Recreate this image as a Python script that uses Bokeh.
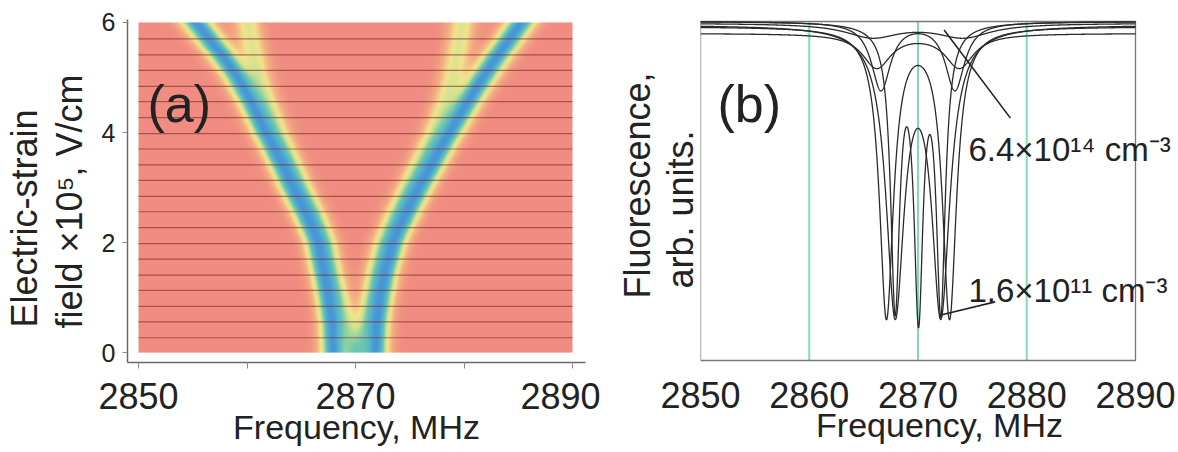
import numpy as np
from bokeh.plotting import figure
from bokeh.layouts import row
from bokeh.models import Range1d, FixedTicker, Label, Title
from bokeh.embed import file_html
from bokeh.resources import INLINE

FONT = "Liberation Sans"
INK = "#222222"

# ---------------- panel (a): resonance positions vs electric-strain field ----------------
field = [0.0, 0.5, 1.0, 1.5, 2.0, 2.5, 3.0, 3.5, 4.0, 4.5, 5.0, 5.5, 6.0]          # x10^5 V/cm
main_low = [2867.9, 2867.8, 2867.5, 2867.0, 2866.5, 2865.5, 2864.2, 2863.0, 2861.7, 2860.5, 2859.1, 2857.3, 2855.3]
main_high = [2871.8, 2871.9, 2872.2, 2872.7, 2873.4, 2874.5, 2875.8, 2877.2, 2878.6, 2880.1, 2881.7, 2883.4, 2885.2]
side_low = [2869.8, 2869.0, 2868.3, 2867.6, 2867.0, 2866.0, 2864.8, 2863.7, 2862.7, 2861.8, 2861.0, 2860.5, 2860.0]
side_high = [2870.2, 2871.0, 2871.6, 2872.1, 2872.8, 2873.8, 2875.0, 2876.2, 2877.3, 2878.2, 2878.9, 2879.4, 2879.8]
branch_strength = [1.0, 1.0, 0.5, 0.5]
scan_fields = [0.27, 0.56, 0.84, 1.13, 1.41, 1.70, 1.98, 2.27, 2.56, 2.84,
               3.13, 3.41, 3.70, 3.98, 4.27, 4.56, 4.84, 5.13, 5.41, 5.70]
freq_ticks_a = [2850, 2870, 2890]
freq_minor_a = [2860, 2880]
field_ticks = [0, 2, 4, 6]

# ---------------- panel (b): fluorescence spectra for several concentrations -------------
spec_centers = [
    [2867.9, 2870.05, 2872.1],
    [2867.9, 2872.1],
    [2867.1, 2872.9],
    [2866.6, 2873.4],
    [2866.2, 2873.8],
    [2865.8, 2874.2],
]
spec_widths = [0.5, 1.0, 0.78, 1.07, 1.6, 3.0]          # HWHM, MHz
spec_depths = [0.816, 0.825, 0.85, 0.2, 0.1, 0.04]
spec_baselines = [1.0, 0.99, 0.985, 1.0, 0.965, 0.995]
freq_ticks_b = [2850, 2860, 2870, 2880, 2890]
marker_freqs = [2860, 2870, 2880]
box_freq = [2850, 2890]
box_level = [0, 1]

# leader lines from the concentration labels to their curves
leader_high_x, leader_high_y = [2872.4, 2878.5], [0.975, 0.715]
leader_low_x, leader_low_y = [2872.1, 2877.1], [0.134, 0.173]


def style_ticks(axis, size):
    axis.major_label_text_font = FONT
    axis.major_label_text_font_size = size
    axis.major_label_text_color = INK


def add_text(p, x, y, text, size):
    p.add_layout(Label(x=x, y=y, text=text, text_font=FONT, text_font_size=size,
                       text_color=INK, text_align="left", text_baseline="alphabetic"))


def add_title(p, text, side, size, align, offset, standoff):
    p.add_layout(Title(text=text, align=align, offset=offset, standoff=standoff,
                       text_font=FONT, text_font_size=size, text_color=INK,
                       text_font_style="normal"), side)


# ---------- panel (a) ----------
p1 = figure(width=600, height=452, output_backend="svg", toolbar_location=None,
            x_range=Range1d(2848.986, 2891.198), y_range=Range1d(-0.1796, 6.0536),
            min_border_left=127, min_border_right=15, min_border_top=15, min_border_bottom=90)
p1.outline_line_color = None
p1.grid.visible = False
p1.background_fill_color = "white"
p1.border_fill_color = "white"

nx, ny = 434, 334
fx = np.linspace(2850, 2890, nx)
fe = np.linspace(0, 6, ny)
E = np.array(field)
px_per_mhz, px_per_field = 10.85, 55.67


def band(pos, strength, sigma=0.85):
    pos = np.array(pos)
    c = np.interp(fe, E, pos)
    slope = np.interp(fe, E, np.gradient(pos, E)) * px_per_mhz / px_per_field
    s = sigma * np.sqrt(1 + slope ** 2)
    return strength * np.exp(-0.5 * ((fx[None, :] - c[:, None]) / s[:, None]) ** 2)


keep = np.ones((ny, nx))
for pos, k in zip([main_low, main_high, side_low, side_high], branch_strength):
    keep *= 1 - band(pos, k)
t = 1 - keep

stops = [0.0, 0.2, 0.42, 0.58, 0.75, 0.9, 1.0]
reds = [240, 244, 243, 205, 110, 80, 72]
greens = [140, 175, 228, 226, 200, 175, 150]
blues = [129, 130, 142, 142, 175, 208, 214]
img = np.empty((ny, nx), dtype=np.uint32)
view = img.view(dtype=np.uint8).reshape((ny, nx, 4))
view[..., 0] = np.interp(t, stops, reds).astype(np.uint8)
view[..., 1] = np.interp(t, stops, greens).astype(np.uint8)
view[..., 2] = np.interp(t, stops, blues).astype(np.uint8)
view[..., 3] = 255
p1.image_rgba(image=[img], x=2850, y=0, dw=40, dh=6)

n = len(scan_fields)
p1.segment(x0=[2850] * n, x1=[2890] * n, y0=scan_fields, y1=scan_fields,
           line_color="#7a2a2a", line_alpha=0.6, line_width=1.2)

p1.xaxis.ticker = FixedTicker(ticks=freq_ticks_a, minor_ticks=freq_minor_a)
p1.yaxis.ticker = FixedTicker(ticks=field_ticks)
for ax in (p1.xaxis[0], p1.yaxis[0]):
    ax.axis_line_color = "#6a6a6a"
    ax.axis_line_width = 1.5
    ax.major_tick_line_color = "#8a8a8a"
    ax.minor_tick_line_color = "#8a8a8a"
    ax.major_tick_in = 0
    ax.minor_tick_in = 0
p1.xaxis.major_tick_out = 6
p1.xaxis.minor_tick_out = 6
p1.yaxis.major_tick_out = 5
p1.yaxis.minor_tick_line_color = None
style_ticks(p1.xaxis[0], "36px")
style_ticks(p1.yaxis[0], "25px")
p1.xaxis.major_label_standoff = 14
p1.yaxis.major_label_standoff = 7

add_title(p1, "field \u00d710\u2075, V/cm", "left", "36px", "left", 34, 17)
add_title(p1, "Electric-strain", "left", "36px", "left", 35, -12)
add_title(p1, "Frequency, MHz", "below", "34px", "center", 4, -11)
add_text(p1, 2850.83, 4.527, "(a)", "52px")

# ---------- panel (b) ----------
p2 = figure(width=578, height=452, output_backend="svg", toolbar_location=None,
            x_range=Range1d(2850, 2893.954), y_range=Range1d(-0.00587, 1.00587),
            min_border_left=100, min_border_right=0, min_border_top=19, min_border_bottom=88)
p2.background_fill_color = "white"
p2.border_fill_color = "white"
p2.outline_line_color = None
p2.grid.visible = False
p2.yaxis.visible = False
p2.xaxis.ticker = FixedTicker(ticks=freq_ticks_b)
p2.xaxis.axis_line_color = None
p2.xaxis.major_tick_line_color = None
p2.xaxis.minor_tick_line_color = None
p2.xaxis.major_tick_out = 0
p2.xaxis.major_label_standoff = 19
style_ticks(p2.xaxis[0], "36px")

# green reference lines and the plot box
m = len(marker_freqs)
p2.segment(x0=marker_freqs, x1=marker_freqs, y0=[box_level[0]] * m, y1=[box_level[1]] * m,
           line_color="#7fdcb4", line_width=2)
p2.quad(left=box_freq[0], right=box_freq[1], bottom=box_level[0], top=box_level[1],
        fill_color=None, line_color="#777777", line_width=1.3)

f = np.linspace(2850, 2890, 2401)
xs, ys = [], []
for centers, g, d, b in zip(spec_centers, spec_widths, spec_depths, spec_baselines):
    dip = sum(g ** 2 / ((f - c) ** 2 + g ** 2) for c in centers)
    xs.append(f)
    ys.append(b - d * dip)
p2.multi_line(xs, ys, line_color="#2a2a2a", line_width=1.3)

p2.line(leader_high_x, leader_high_y, line_color="#222222", line_width=1.6)
p2.line(leader_low_x, leader_low_y, line_color="#222222", line_width=1.6)

add_title(p2, "arb. units.", "left", "36px", "left", 74, 0)
add_title(p2, "Fluorescence,", "left", "36px", "left", 64, 0)
add_title(p2, "Frequency, MHz", "below", "34px", "center", 8, -14)
add_text(p2, 2851.56, 0.757, "(b)", "52px")
add_text(p2, 2874.64, 0.6217, "6.4\u00d710\u00b9\u2074 cm\u207b\u00b3", "33px")
add_text(p2, 2874.64, 0.2053, "1.6\u00d710\u00b9\u00b9 cm\u207b\u00b3", "33px")

layout = row(p1, p2)
open("out.html", "w").write(file_html(layout, INLINE))
